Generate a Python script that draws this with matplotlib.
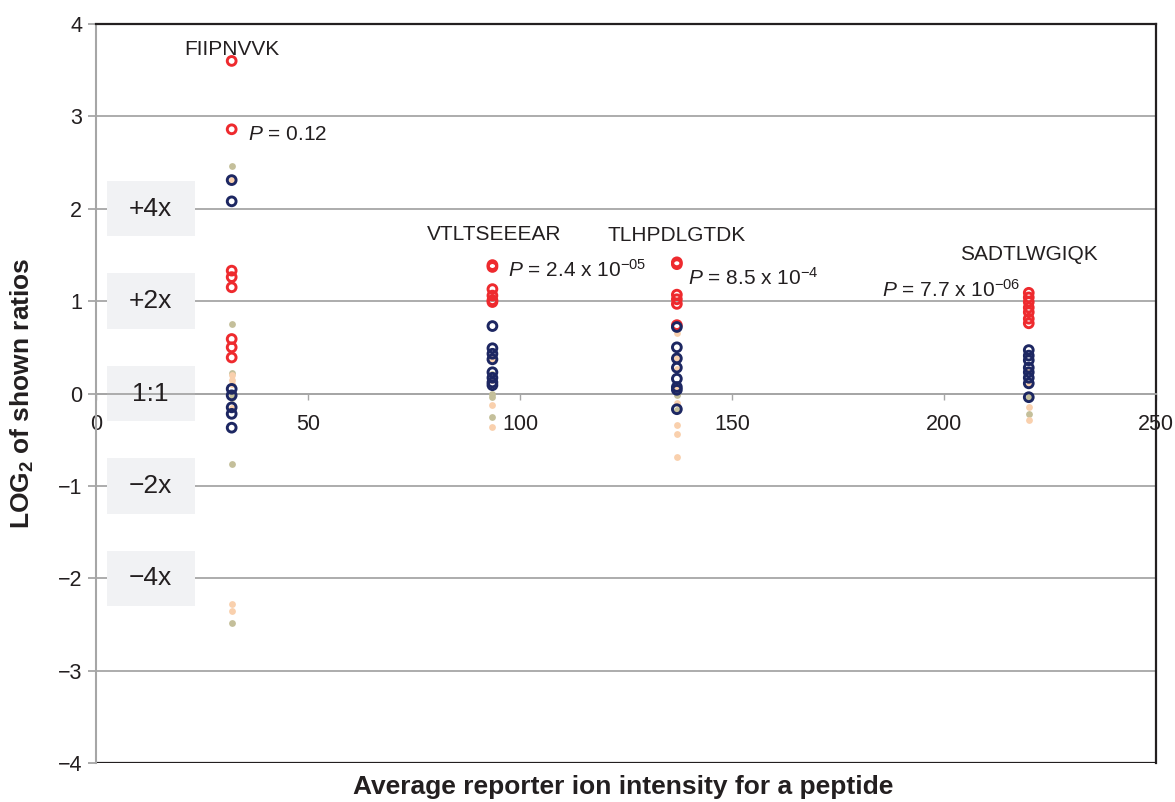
import matplotlib
matplotlib.use('Agg')
import matplotlib.pyplot as plt
from matplotlib.patches import Rectangle

plt.rcParams['font.family'] = ['Liberation Sans', 'DejaVu Sans']
plt.rcParams['mathtext.fontset'] = 'custom'
plt.rcParams['mathtext.rm'] = 'Liberation Sans'
plt.rcParams['mathtext.it'] = 'Liberation Sans:italic'
plt.rcParams['mathtext.bf'] = 'Liberation Sans:bold'

# peptides and their average reporter ion intensity
peptides = ['FIIPNVVK', 'VTLTSEEEAR', 'TLHPDLGTDK', 'SADTLWGIQK']
intensity = [32, 93.5, 137, 220]
p_labels = [r'$P$ = 0.12', r'$P$ = 2.4 x 10$^{-05}$',
            r'$P$ = 8.5 x 10$^{-4}$', r'$P$ = 7.7 x 10$^{-06}$']

# log2 ratios per peptide (one list per peptide)
red_vals = [
    [3.6, 2.86, 1.33, 1.26, 1.15, 0.59, 0.5, 0.39],
    [1.39, 1.37, 1.13, 1.06, 1.01, 0.99],
    [1.42, 1.40, 1.07, 1.02, 0.97, 0.74],
    [1.09, 1.04, 0.99, 0.93, 0.88, 0.81, 0.76],
]
navy_vals = [
    [2.31, 2.08, 0.05, -0.02, -0.15, -0.22, -0.37],
    [0.73, 0.49, 0.43, 0.37, 0.23, 0.17, 0.12, 0.09],
    [0.72, 0.5, 0.38, 0.28, 0.16, 0.07, 0.04, -0.17],
    [0.47, 0.41, 0.36, 0.28, 0.23, 0.17, 0.11, -0.04],
]
tan_vals = [
    [2.46, 0.75, 0.22, 0.0, -0.05, -0.76, -2.48],
    [0.21, 0.0, -0.04, -0.25],
    [0.0, -0.02, -0.18],
    [-0.04, -0.22],
]
peach_vals = [
    [2.31, 0.2, 0.15, 0.1, -0.16, -2.28, -2.35],
    [0.37, 0.15, -0.12, -0.36],
    [0.66, 0.38, 0.27, 0.07, -0.1, -0.34, -0.44, -0.69],
    [0.25, 0.1, -0.15, -0.29],
]

fold_labels = ['+4x', '+2x', '1:1', '\u22122x', '\u22124x']
fold_levels = [2, 1, 0, -1, -2]

red = '#ee2a2e'
navy = '#1d2762'
tan = '#c4bf9a'
peach = '#f9d0ad'
grey = '#a6a6a6'

fig = plt.figure(figsize=(11.75, 8.02), dpi=100)
ax = fig.add_axes([0.0817, 0.0486, 0.9021, 0.9215])

for i, x in enumerate(intensity):
    ax.scatter([x] * len(tan_vals[i]), tan_vals[i], s=24, color=tan, lw=0, zorder=3)
    ax.scatter([x] * len(peach_vals[i]), peach_vals[i], s=24, color=peach, lw=0, zorder=3)
    ax.scatter([x] * len(red_vals[i]), red_vals[i], s=40, facecolor='none',
               edgecolor=red, lw=2.1, zorder=4)
    ax.scatter([x] * len(navy_vals[i]), navy_vals[i], s=40, facecolor='none',
               edgecolor=navy, lw=2.1, zorder=5)

# peptide names and P values
name_pos = [(32, 3.66), (94, 1.66), (137, 1.65), (220, 1.44)]
for name, (x, y) in zip(peptides, name_pos):
    ax.text(x, y, name, ha='center', va='baseline', fontsize=15, color='#231f20', zorder=6)

p_pos = [(35.8, 2.74, 'left'), (97.2, 1.26, 'left'), (139.6, 1.18, 'left'), (218, 1.05, 'right')]
for lab, (x, y, ha) in zip(p_labels, p_pos):
    ax.text(x, y, lab, ha=ha, va='baseline', fontsize=15, color='#231f20', zorder=6)

# fold change boxes
for lab, lv in zip(fold_labels, fold_levels):
    ax.add_patch(Rectangle((2.6, lv - 0.3), 20.8, 0.6, facecolor='#f1f2f4',
                           edgecolor='none', zorder=2))
    ax.text(12.9, lv, lab, ha='center', va='center', fontsize=19, color='#231f20', zorder=6)

ax.set_xlim(0, 250)
ax.set_ylim(-4, 4)
ax.set_xticks([0, 50, 100, 150, 200, 250])
ax.set_yticks(range(-4, 5))
ax.set_yticklabels(['\u2212' + str(-v) if v < 0 else str(v) for v in range(-4, 5)])

for v in range(-3, 4):
    ax.axhline(v, color=grey, lw=1.3, zorder=1)
ax.axhline(-4, color='#231f20', lw=1.6, zorder=1)

ax.spines['bottom'].set_position(('data', 0))
ax.spines['bottom'].set_color(grey)
ax.spines['bottom'].set_linewidth(1.3)
ax.spines['left'].set_color(grey)
ax.spines['left'].set_linewidth(1.5)
ax.spines['top'].set_color('#231f20')
ax.spines['top'].set_linewidth(1.6)
ax.spines['right'].set_color('#231f20')
ax.spines['right'].set_linewidth(1.6)

ax.tick_params(axis='y', direction='out', length=6, width=1.3, color=grey,
               labelsize=15.5, labelcolor='#231f20', pad=4)
ax.tick_params(axis='x', direction='out', length=4, width=1.0, color=grey,
               labelsize=15.5, labelcolor='#231f20', pad=11)

fig.text(0.530, 0.019, 'Average reporter ion intensity for a peptide', ha='center',
         va='center', fontsize=19, fontweight='bold', color='#231f20')
fig.text(0.019, 0.51, r'LOG$_\mathbf{2}$ of shown ratios', ha='center', va='center',
         rotation=90, fontsize=19, fontweight='bold', color='#231f20')

fig.savefig('out.png', dpi=100)
